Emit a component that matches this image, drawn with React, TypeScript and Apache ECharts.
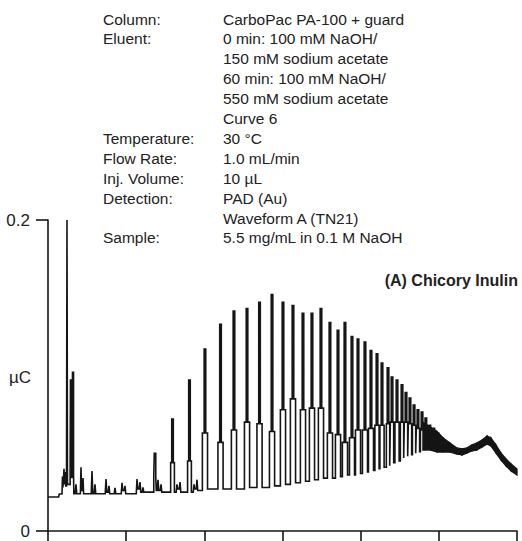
import React, { useEffect, useRef } from "react";
import * as echarts from "echarts";

// Run conditions printed above the trace
const conditionLabels = [
  "Column:",
  "Eluent:",
  "",
  "",
  "",
  "",
  "Temperature:",
  "Flow Rate:",
  "Inj. Volume:",
  "Detection:",
  "",
  "Sample:",
];
const conditionValues = [
  "CarboPac PA-100 + guard",
  "0 min: 100 mM NaOH/",
  "150 mM sodium acetate",
  "60 min: 100 mM NaOH/",
  "550 mM sodium acetate",
  "Curve 6",
  "30 °C",
  "1.0 mL/min",
  "10 µL",
  "PAD (Au)",
  "Waveform A (TN21)",
  "5.5 mg/mL in 0.1 M NaOH",
];
const sampleTitle = "(A) Chicory Inulin";
const yUnit = "µC";

// Time axis (min) and response axis (µC)
const timeTicks = [0, 10, 20, 30, 40, 50, 60];
const responseTicks = [0, 0.2];

// Flat baseline before the first eluting peak: [min, µC]
const leadIn: [number, number][] = [
  [0, 0.0219],
  [1.35, 0.0219],
  [1.45, 0.0238],
];

// Resolved peaks: retention time (min), apex (µC), shoulder level (µC, 0 = plain spike),
// and the valley level the trace returns to after each peak (µC)
const peakTimes = [
  1.85, 2.05, 2.22, 2.43, 2.94, 3.2, 3.58, 4.22, 4.48, 5.63, 6.01, 7.42, 7.8, 8.57, 9.47, 9.85,
  11.39, 11.77, 12.15, 13.69, 14.07, 14.46, 15.93, 16.5, 16.89, 18.1, 18.68, 19.06, 20.08, 22.07,
  23.79, 25.46, 27.06, 28.66, 30.06, 31.34, 32.62, 33.77, 34.92, 36.07, 37.1, 37.99, 38.89, 39.66,
  40.55, 41.32, 42.09, 42.73, 43.5, 44.01, 44.65, 45.29, 45.8, 46.31, 46.83, 47.33, 47.85, 48.34,
  48.85, 49.36, 49.87, 50.38,
];
const peakHeights = [
  0.035, 0.04, 0.038, 0.2, 0.097, 0.102, 0.03, 0.041, 0.034, 0.0386, 0.03, 0.0334, 0.029, 0.0277,
  0.031, 0.029, 0.0334, 0.0315, 0.028, 0.05, 0.033, 0.03, 0.072, 0.03, 0.0315, 0.097, 0.03, 0.033,
  0.117, 0.133, 0.1415, 0.143, 0.147, 0.152, 0.147, 0.145, 0.14, 0.14, 0.143, 0.134, 0.129, 0.134,
  0.125, 0.1235, 0.1215, 0.116, 0.114, 0.108, 0.105, 0.099, 0.097, 0.094, 0.089, 0.0855, 0.081,
  0.078, 0.0765, 0.0727, 0.068, 0.066, 0.063, 0.06,
];
const peakShoulders = [
  0, 0, 0, 0, 0.036, 0.036, 0, 0, 0, 0, 0, 0, 0, 0, 0, 0, 0, 0, 0, 0.035, 0, 0, 0.044, 0, 0, 0.045,
  0, 0, 0.063, 0.057, 0.065, 0.07, 0.069, 0.064, 0.078, 0.085, 0.078, 0.079, 0.079, 0.063, 0.062,
  0.057, 0.06, 0.065, 0.065, 0.066, 0.068, 0.068, 0.069, 0.07, 0.07, 0.07, 0.07, 0.069, 0.068,
  0.066, 0.065, 0.062, 0.06, 0.058, 0.056, 0.055,
];
const valleyAfter = [
  0.028, 0.03, 0.029, 0.03, 0.034, 0.024, 0.024, 0.026, 0.024, 0.024, 0.024, 0.025, 0.024, 0.024,
  0.026, 0.024, 0.027, 0.025, 0.025, 0.026, 0.026, 0.025, 0.025, 0.027, 0.025, 0.025, 0.027, 0.026,
  0.027, 0.027, 0.027, 0.028, 0.028, 0.029, 0.03, 0.031, 0.032, 0.033, 0.034, 0.034, 0.035, 0.036,
  0.036, 0.037, 0.038, 0.039, 0.04, 0.041, 0.042, 0.044, 0.045, 0.047, 0.048, 0.049, 0.05, 0.051,
  0.052, 0.052, 0.052, 0.051, 0.051, 0.051,
];

// Unresolved high-DP hump: lower and upper envelope (µC) of the dense trace
const bandTimes = [
  47.97, 48.87, 49.76, 50.53, 51.43, 52.32, 52.96, 53.6, 54.24, 54.88, 55.52, 56.16, 56.67, 57.31,
  57.95, 58.6, 59.24, 60.0,
];
const bandLow = [
  0.052, 0.0521, 0.0508, 0.0508, 0.0508, 0.0495, 0.0489, 0.0501, 0.0515, 0.0521, 0.054, 0.0559,
  0.0547, 0.0502, 0.0457, 0.0418, 0.0386, 0.036,
];
const bandHigh = [
  0.07, 0.067, 0.064, 0.06, 0.0566, 0.0534, 0.0528, 0.0534, 0.0553, 0.0566, 0.0585, 0.0611,
  0.0598, 0.0553, 0.0502, 0.0463, 0.0431, 0.0399,
];

// Trace the detector signal peak by peak: a narrow column on top of a wider pedestal
function buildTrace(): [number, number][] {
  const pts: [number, number][] = leadIn.map((p) => [p[0], p[1]] as [number, number]);
  let prevValley = leadIn[leadIn.length - 1][1];
  const n = peakTimes.length;
  for (let i = 0; i < n; i++) {
    const t = peakTimes[i];
    const gapL = i > 0 ? t - peakTimes[i - 1] : 1;
    const gapR = i < n - 1 ? peakTimes[i + 1] - t : 1;
    const gap = Math.min(gapL, gapR);
    const h = peakHeights[i];
    const s = peakShoulders[i];
    const v = valleyAfter[i];
    if (s > 0) {
      const wOut = Math.min(0.33, gap * 0.42);
      const wIn = Math.min(0.1, wOut * 0.6);
      pts.push(
        [t - wOut, prevValley],
        [t - wOut, s],
        [t - wIn, s],
        [t - wIn, h],
        [t + wIn, h],
        [t + wIn, s],
        [t + wOut, s],
        [t + wOut, v]
      );
    } else {
      const w = Math.min(0.1, gap * 0.3);
      pts.push([t - w, prevValley], [t, h], [t + w, v]);
    }
    prevValley = v;
  }
  return pts;
}

const FONT = '"Liberation Sans", Arial, sans-serif';
const INK = "#151515";
const TEXT = "#222";

export default function App() {
  const ref = useRef<HTMLDivElement>(null);

  useEffect(() => {
    if (!ref.current) return;
    const chart = echarts.init(ref.current, undefined, { renderer: "svg" });

    const textEls: any[] = [];
    conditionLabels.forEach((label, i) => {
      if (!label) return;
      textEls.push({
        type: "text",
        x: 103,
        y: 19 + i * 19.9,
        style: {
          text: label,
          fontFamily: FONT,
          fontSize: 15.5,
          fill: TEXT,
          align: "left",
          verticalAlign: "middle",
        },
      });
    });
    conditionValues.forEach((val, i) => {
      textEls.push({
        type: "text",
        x: 223,
        y: 19 + i * 19.9,
        style: {
          text: val,
          fontFamily: FONT,
          fontSize: 15.5,
          fill: TEXT,
          align: "left",
          verticalAlign: "middle",
        },
      });
    });
    textEls.push({
      type: "text",
      x: 518,
      y: 280,
      style: {
        text: sampleTitle,
        fontFamily: FONT,
        fontSize: 16,
        fontWeight: "bold",
        fill: TEXT,
        align: "right",
        verticalAlign: "middle",
      },
    });
    textEls.push({
      type: "text",
      x: 9,
      y: 377,
      style: {
        text: yUnit,
        fontFamily: FONT,
        fontSize: 17,
        fill: TEXT,
        align: "left",
        verticalAlign: "middle",
      },
    });

    const bandSegments = bandTimes.slice(0, -1).map((t, i) => [
      t,
      bandLow[i],
      bandHigh[i],
      bandTimes[i + 1],
      bandLow[i + 1],
      bandHigh[i + 1],
    ]);

    chart.setOption({
      animation: false,
      backgroundColor: "#fff",
      grid: { left: 48, right: 5, top: 220, bottom: 10, containLabel: false },
      xAxis: {
        type: "value",
        min: timeTicks[0],
        max: timeTicks[timeTicks.length - 1],
        interval: timeTicks[1] - timeTicks[0],
        axisLine: { show: true, onZero: false, lineStyle: { color: INK, width: 1.6 } },
        axisTick: { show: true, length: 14, lineStyle: { color: INK, width: 1.6 } },
        axisLabel: { show: false },
        splitLine: { show: false },
      },
      yAxis: {
        type: "value",
        min: responseTicks[0],
        max: responseTicks[responseTicks.length - 1],
        interval: responseTicks[1] - responseTicks[0],
        axisLine: { show: true, onZero: false, lineStyle: { color: INK, width: 1.6 } },
        axisTick: { show: true, length: 12, lineStyle: { color: INK, width: 1.6 } },
        axisLabel: {
          show: true,
          margin: 18,
          fontFamily: FONT,
          fontSize: 17,
          color: TEXT,
          formatter: (v: number) => (v === 0 ? "0" : String(v)),
        },
        splitLine: { show: false },
      },
      series: [
        {
          type: "custom",
          data: bandSegments,
          encode: { x: [0, 3], y: [1, 2, 4, 5] },
          renderItem: (_params: any, api: any) => {
            const a = api.coord([api.value(0), api.value(1)]);
            const b = api.coord([api.value(0), api.value(2)]);
            const c = api.coord([api.value(3), api.value(5)]);
            const d = api.coord([api.value(3), api.value(4)]);
            return {
              type: "polygon",
              shape: { points: [a, b, c, d] },
              style: { fill: INK, stroke: INK, lineWidth: 1.3 },
            };
          },
          z: 2,
        },
        {
          type: "line",
          data: buildTrace(),
          symbol: "none",
          lineStyle: { color: INK, width: 1.6, join: "miter" },
          z: 3,
        },
      ],
      graphic: textEls,
    });

    return () => chart.dispose();
  }, []);

  return (
    <div
      ref={ref}
      style={{ position: "fixed", left: 0, top: 0, width: 522, height: 541, background: "#fff" }}
    />
  );
}
